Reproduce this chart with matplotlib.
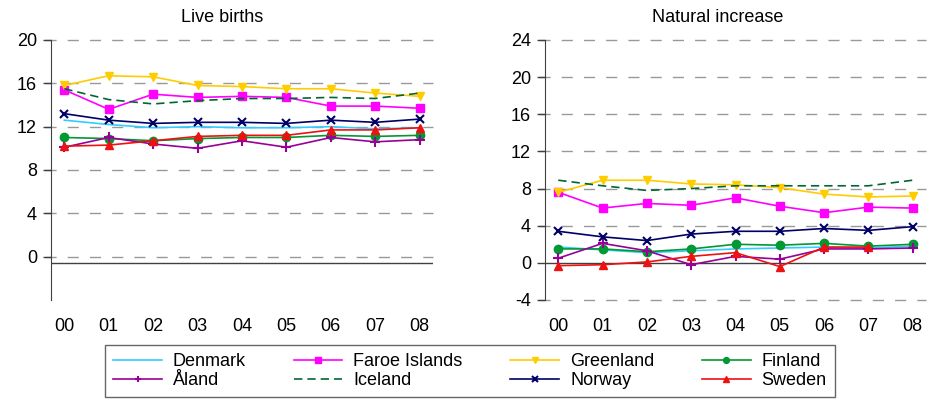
import numpy as np
import matplotlib
matplotlib.use('Agg')
import matplotlib.pyplot as plt

plt.rcParams['font.family'] = ['Liberation Sans', 'DejaVu Sans']
plt.rcParams['axes.unicode_minus'] = False

years = ['00', '01', '02', '03', '04', '05', '06', '07', '08']
countries = ['Denmark', 'Faroe Islands', 'Greenland', 'Finland',
             'Åland', 'Iceland', 'Norway', 'Sweden']

# Live births per 1000
births_denmark = [12.6, 12.2, 11.9, 12.0, 11.9, 11.9, 12.0, 11.8, 11.9]
births_faroe = [15.4, 13.6, 15.0, 14.7, 14.8, 14.7, 13.9, 13.9, 13.7]
births_greenland = [15.8, 16.7, 16.6, 15.8, 15.7, 15.5, 15.5, 15.1, 14.8]
births_finland = [11.0, 10.9, 10.7, 10.9, 11.0, 11.0, 11.2, 11.1, 11.2]
births_aland = [10.1, 11.0, 10.4, 10.0, 10.7, 10.1, 11.0, 10.6, 10.8]
births_iceland = [15.5, 14.5, 14.1, 14.4, 14.6, 14.6, 14.7, 14.6, 15.1]
births_norway = [13.2, 12.6, 12.3, 12.4, 12.4, 12.3, 12.6, 12.4, 12.7]
births_sweden = [10.2, 10.3, 10.7, 11.1, 11.2, 11.2, 11.7, 11.7, 11.9]

# Natural increase per 1000
incr_denmark = [1.7, 1.4, 1.1, 1.3, 1.5, 1.6, 1.7, 1.6, 1.8]
incr_faroe = [7.6, 5.9, 6.4, 6.2, 7.0, 6.1, 5.4, 6.0, 5.9]
incr_greenland = [7.6, 8.9, 8.9, 8.5, 8.4, 8.1, 7.4, 7.1, 7.2]
incr_finland = [1.5, 1.5, 1.2, 1.5, 2.0, 1.9, 2.1, 1.8, 2.0]
incr_aland = [0.5, 2.1, 1.3, -0.2, 0.7, 0.4, 1.5, 1.5, 1.6]
incr_iceland = [8.9, 8.3, 7.8, 8.0, 8.3, 8.3, 8.3, 8.3, 8.9]
incr_norway = [3.4, 2.8, 2.4, 3.1, 3.4, 3.4, 3.7, 3.5, 3.9]
incr_sweden = [-0.3, -0.2, 0.1, 0.7, 1.1, -0.4, 1.7, 1.7, np.nan]

births = [births_denmark, births_faroe, births_greenland, births_finland,
          births_aland, births_iceland, births_norway, births_sweden]
increase = [incr_denmark, incr_faroe, incr_greenland, incr_finland,
            incr_aland, incr_iceland, incr_norway, incr_sweden]

styles = {
    'Denmark': dict(color='#33ccff', marker=None, ls='-'),
    'Faroe Islands': dict(color='#ff00ff', marker='s', ls='-', ms=6),
    'Greenland': dict(color='#ffcc00', marker='v', ls='-', ms=6),
    'Finland': dict(color='#009933', marker='o', ls='-', ms=6),
    'Åland': dict(color='#990099', marker='+', ls='-', ms=7),
    'Iceland': dict(color='#006633', marker=None, ls=(0, (5, 3))),
    'Norway': dict(color='#000066', marker='x', ls='-', ms=6),
    'Sweden': dict(color='#ee1111', marker='^', ls='-', ms=6),
}

fig = plt.figure(figsize=(9.27, 3.99), dpi=100)
ax1 = fig.add_axes([51 / 927, 1 - 300 / 399, 382 / 927, 260 / 399])
ax2 = fig.add_axes([545 / 927, 1 - 300 / 399, 381 / 927, 260 / 399])

x = np.arange(len(years))
handles = {}
for ax, data in [(ax1, births), (ax2, increase)]:
    for name, vals in zip(countries, data):
        st = styles[name]
        line, = ax.plot(x, vals, color=st['color'], marker=st['marker'],
                        linestyle=st['ls'], lw=1.2, ms=st.get('ms', 6),
                        mew=1.5 if st['marker'] in ('+', 'x') else 1,
                        label=name)
        handles[name] = line

for ax in (ax1, ax2):
    ax.set_xlim(-0.3, 8.3)
    ax.set_ylim(-4, 20 if ax is ax1 else 24)
    ax.set_xticks(x)
    ax.set_xticklabels(years)
    ax.tick_params(axis='x', length=0, pad=13, labelsize=13)
    ax.tick_params(axis='y', direction='out', length=6, width=1,
                   color='#404040', labelsize=13, pad=4)
    for s in ('top', 'right', 'bottom'):
        ax.spines[s].set_visible(False)
    ax.spines['left'].set_color('#404040')
    ax.set_zorder(1)

# left panel: grid at 0..20, axis line just below zero
ax1.set_yticks([0, 4, 8, 12, 16, 20])
for v in [0, 4, 8, 12, 16, 20]:
    ax1.axhline(v, color='#999999', lw=1, ls=(0, (8, 8)), zorder=0,
                xmin=-0.016, clip_on=False)
ax1.axhline(-0.55, color='#404040', lw=1, zorder=0.5)

# right panel: grid at every 4, solid zero line
ax2.set_yticks(range(-4, 25, 4))
for v in range(-4, 25, 4):
    if v == 0:
        ax2.axhline(0, color='#404040', lw=1, zorder=0.5)
    else:
        ax2.axhline(v, color='#999999', lw=1, ls=(0, (8, 8)), zorder=0,
                    xmin=-0.016, clip_on=False)

fig.text(222 / 927, 1 - 18 / 399, 'Live births', ha='center', va='center',
         fontsize=13)
fig.text(718 / 927, 1 - 18 / 399, 'Natural increase', ha='center',
         va='center', fontsize=13)

order = ['Denmark', 'Åland', 'Faroe Islands', 'Iceland',
         'Greenland', 'Norway', 'Finland', 'Sweden']
leg = fig.legend([handles[n] for n in order], order, ncol=4,
                 loc='center', bbox_to_anchor=(470 / 927, 1 - 371 / 399),
                 fontsize=13, frameon=True, fancybox=False,
                 edgecolor='#404040', handlelength=2.7, handletextpad=0.6,
                 columnspacing=2.65, labelspacing=0.12, borderpad=0.45,
                 markerscale=0.7)
leg.get_frame().set_linewidth(1)

fig.savefig('out.png', dpi=100)
